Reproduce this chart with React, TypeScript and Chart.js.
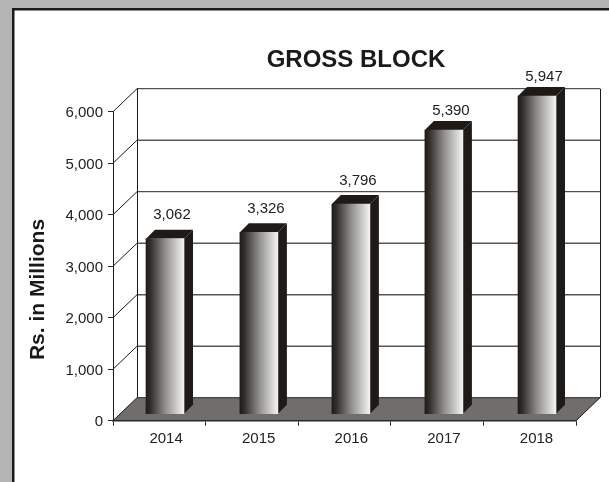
import React, { useEffect, useRef } from "react";
import { Chart, registerables } from "chart.js";

Chart.register(...registerables);

const years = ["2014", "2015", "2016", "2017", "2018"];
// numbers printed above the bars
const printedValues = [3062, 3326, 3796, 5390, 5947];
// heights of the bars read against the axis, which differ from the printed numbers
const drawnTops = [3534, 3658, 4208, 5644, 6305];
const drawnBase = 136;
const yTicks = [0, 1000, 2000, 3000, 4000, 5000, 6000];

const DEPTH_X = 24;
const DEPTH_Y = 23;
const BAR_DEPTH = 9;
const barNudge = [5.7, 7, 6.4, 6.8, 7.3];
const labelLift = [16, 15.5, 16, 11.5, 11.5];
const DARK = "#1e1a17";
const FONT = "'Liberation Sans', Arial, sans-serif";

const fmt = (v: number) => v.toLocaleString("en-US");

const scenery = {
  id: "scenery",
  afterLayout(chart: any) {
    const block = chart.titleBlock;
    if (block) {
      block.left += 68;
      block.right += 68;
    }
  },
  afterDatasetsUpdate(chart: any) {
    chart.getDatasetMeta(0).data.forEach((el: any, i: number) => {
      el.x += barNudge[i];
    });
  },
  beforeDraw(chart: any) {
    const { ctx, chartArea: a, scales } = chart;
    scales.y.getLabelItems().forEach((item: any) => {
      if (!item.shifted) {
        item.options.translation[1] += 1.5;
        item.shifted = true;
      }
    });
    ctx.save();
    // page and frame
    ctx.fillStyle = "#b4b4b4";
    ctx.fillRect(0, 0, chart.width, chart.height);
    ctx.fillStyle = "#ffffff";
    ctx.fillRect(12, 8, chart.width, chart.height);
    ctx.strokeStyle = "#1c1a18";
    ctx.lineWidth = 2.5;
    ctx.beginPath();
    ctx.moveTo(13.25, chart.height);
    ctx.lineTo(13.25, 9.25);
    ctx.lineTo(chart.width, 9.25);
    ctx.stroke();

    // floor
    const y0 = scales.y.getPixelForValue(0);
    ctx.fillStyle = "#6f6e6c";
    ctx.beginPath();
    ctx.moveTo(a.left, y0);
    ctx.lineTo(a.right, y0);
    ctx.lineTo(a.right + DEPTH_X, y0 - DEPTH_Y);
    ctx.lineTo(a.left + DEPTH_X, y0 - DEPTH_Y);
    ctx.closePath();
    ctx.fill();

    // back wall and side wall lines
    yTicks.forEach((v) => {
      const y = scales.y.getPixelForValue(v);
      const strong = v === 4000 || v === 6000 || v === 0;
      ctx.strokeStyle = strong ? "#2a2826" : "#5a5856";
      ctx.lineWidth = strong ? 1 : 1.6;
      ctx.beginPath();
      ctx.moveTo(a.left + DEPTH_X, y - DEPTH_Y);
      ctx.lineTo(a.right + DEPTH_X, y - DEPTH_Y);
      ctx.stroke();
      ctx.strokeStyle = "#1c1a18";
      ctx.lineWidth = 1;
      ctx.beginPath();
      ctx.moveTo(a.left, y);
      ctx.lineTo(a.left + DEPTH_X, y - DEPTH_Y);
      ctx.stroke();
    });
    const top = scales.y.getPixelForValue(6000) - DEPTH_Y;
    const bottom = y0 - DEPTH_Y;
    ctx.strokeStyle = "#1c1a18";
    ctx.lineWidth = 1;
    ctx.beginPath();
    ctx.moveTo(a.left + DEPTH_X + 0.5, top);
    ctx.lineTo(a.left + DEPTH_X + 0.5, bottom);
    ctx.moveTo(a.right + DEPTH_X + 0.5, top);
    ctx.lineTo(a.right + DEPTH_X + 0.5, bottom);
    ctx.moveTo(a.right, y0);
    ctx.lineTo(a.right + DEPTH_X, y0 - DEPTH_Y);
    ctx.stroke();
    ctx.restore();
  },
  beforeDatasetsDraw(chart: any) {
    const { ctx } = chart;
    ctx.save();
    ctx.fillStyle = DARK;
    chart.getDatasetMeta(0).data.forEach((el: any) => {
      const r = el.x + el.width / 2;
      const l = el.x - el.width / 2;
      const t = el.y;
      const b = el.base;
      // top face
      ctx.beginPath();
      ctx.moveTo(l, t);
      ctx.lineTo(l + BAR_DEPTH, t - BAR_DEPTH);
      ctx.lineTo(r + BAR_DEPTH, t - BAR_DEPTH);
      ctx.lineTo(r, t);
      ctx.closePath();
      ctx.fill();
      // side face
      ctx.beginPath();
      ctx.moveTo(r, t);
      ctx.lineTo(r + BAR_DEPTH, t - BAR_DEPTH);
      ctx.lineTo(r + BAR_DEPTH, b - BAR_DEPTH);
      ctx.lineTo(r, b);
      ctx.closePath();
      ctx.fill();
    });
    ctx.restore();
  },
  afterDraw(chart: any) {
    const { ctx } = chart;
    ctx.save();
    // printed values
    ctx.fillStyle = "#222222";
    ctx.font = `15px ${FONT}`;
    ctx.textAlign = "center";
    ctx.textBaseline = "middle";
    chart.getDatasetMeta(0).data.forEach((el: any, i: number) => {
      ctx.fillText(fmt(printedValues[i]), el.x + 7, el.y - BAR_DEPTH - labelLift[i] + 1.5);
    });
    // axis title
    ctx.fillStyle = "#1c1a18";
    ctx.font = `bold 21px ${FONT}`;
    ctx.translate(38, 289.5);
    ctx.rotate(-Math.PI / 2);
    ctx.fillText("Rs. in Millions", 0, 0);
    ctx.restore();
  },
};

export default function App() {
  const ref = useRef<HTMLCanvasElement | null>(null);
  useEffect(() => {
    const chart = new Chart(ref.current as HTMLCanvasElement, {
      type: "bar",
      data: {
        labels: years,
        datasets: [
          {
            label: "Gross block",
            data: drawnTops.map((t) => [drawnBase, t]),
            barThickness: 38,
            clip: false,
            borderWidth: 0,
            backgroundColor: (c: any) => {
              if (c.dataIndex === undefined) return DARK;
              const chartRef = c.chart;
              const cx = chartRef.scales.x.getPixelForValue(c.dataIndex) + barNudge[c.dataIndex];
              if (!Number.isFinite(cx)) return DARK;
              const g = chartRef.ctx.createLinearGradient(cx - 19, 0, cx + 19, 0);
              g.addColorStop(0, "#1f1b18");
              g.addColorStop(0.12, "#312e2b");
              g.addColorStop(0.5, "#8e8d8b");
              g.addColorStop(1, "#f4f4f4");
              return g;
            },
          },
        ],
      } as any,
      options: {
        responsive: false,
        animation: false,
        layout: { autoPadding: false, padding: { left: 0, right: 33, top: 0, bottom: 0 } },
        plugins: {
          legend: { display: false },
          tooltip: { enabled: false },
          title: {
            display: true,
            text: "GROSS BLOCK",
            color: "#1c1a18",
            font: { family: FONT, size: 24, weight: "bold", lineHeight: 1.2 },
            padding: { top: 46, bottom: 36.9 },
          },
        },
        scales: {
          x: {
            offset: true,
            border: { display: true, color: "#2a2826", width: 1.5 },
            grid: { drawOnChartArea: false, drawTicks: true, tickLength: 5, color: "#2a2826", offset: true },
            ticks: { color: "#222222", font: { family: FONT, size: 15 }, labelOffset: 6.8, padding: 4, maxRotation: 0 },
            afterFit: (s: any) => {
              s.height = 61.3;
            },
          },
          y: {
            min: 0,
            max: 6000,
            border: { display: true, color: "#1c1a18", width: 1 },
            grid: { drawOnChartArea: false, drawTicks: true, tickLength: 5, color: "#2a2826" },
            afterBuildTicks: (s: any) => {
              s.ticks = yTicks.map((value) => ({ value }));
            },
            ticks: {
              color: "#222222",
              font: { family: FONT, size: 15 },
              padding: 5,
              callback: (v: any) => fmt(Number(v)),
            },
            afterFit: (s: any) => {
              s.width = 113;
            },
          },
        },
      },
      plugins: [scenery],
    } as any);
    return () => chart.destroy();
  }, []);
  return (
    <canvas
      ref={ref}
      width={609}
      height={482}
      style={{ position: "absolute", left: 0, top: 0, display: "block" }}
    />
  );
}
